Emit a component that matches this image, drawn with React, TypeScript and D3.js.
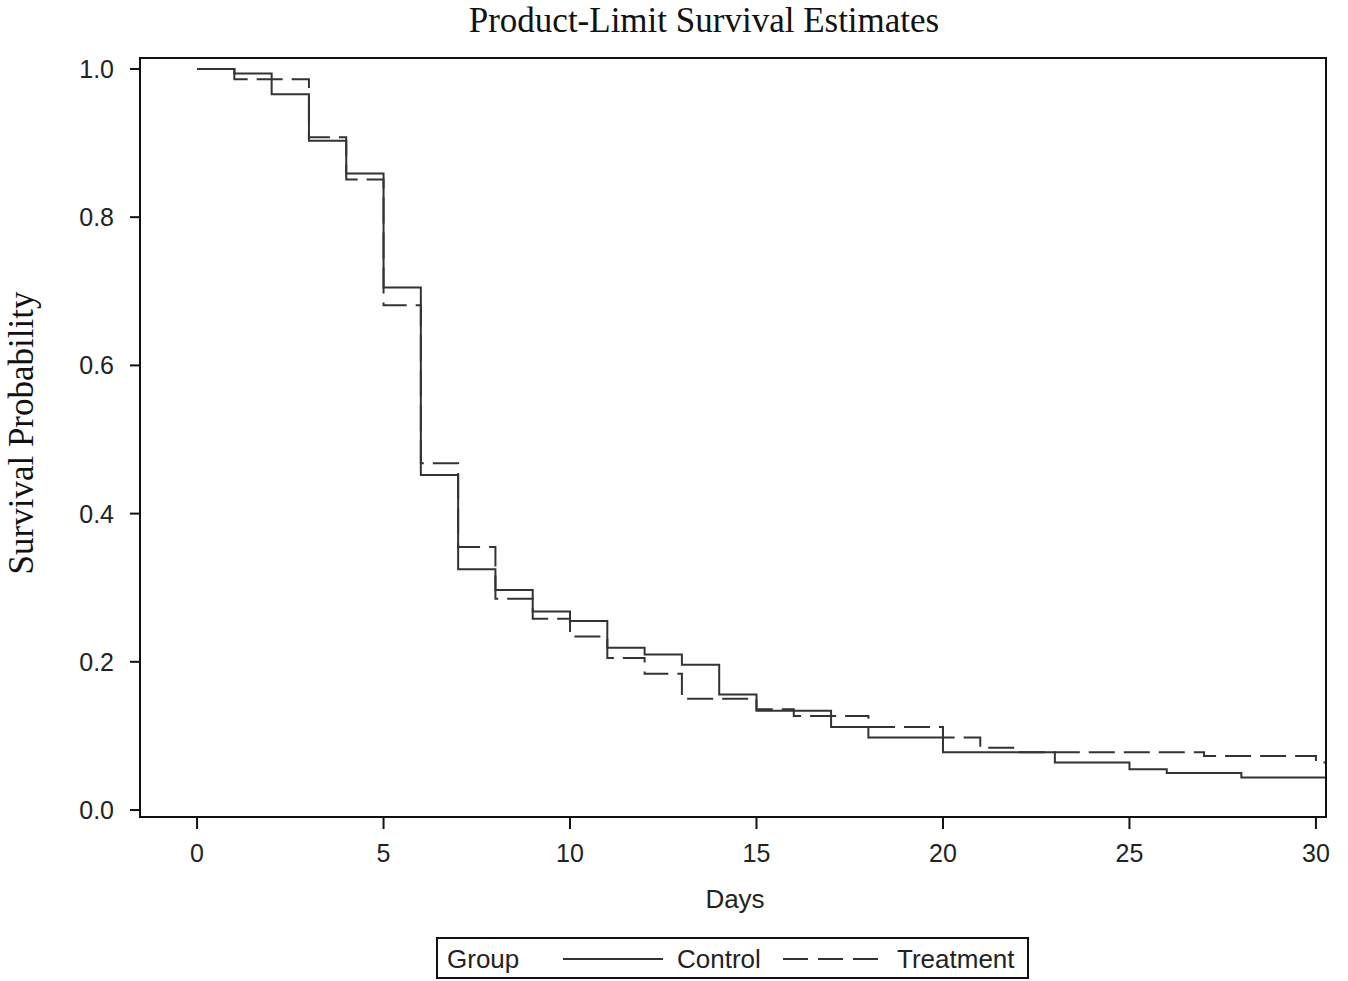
import React from 'react';
import * as d3 from 'd3';

// Kaplan-Meier step estimates
const controlDays = [0, 1, 2, 3, 4, 5, 6, 7, 8, 9, 10, 11, 12, 13, 14, 15, 17, 18, 20, 23, 25, 26, 28];
const controlSurvival = [1.0, 0.994, 0.966, 0.903, 0.859, 0.705, 0.452, 0.325, 0.297, 0.268, 0.255, 0.219, 0.21, 0.196, 0.156, 0.134, 0.112, 0.098, 0.078, 0.064, 0.055, 0.05, 0.044];

const treatmentDays = [0, 1, 3, 4, 5, 6, 7, 8, 9, 10, 11, 12, 13, 15, 16, 18, 20, 21, 22, 27, 30];
const treatmentSurvival = [1.0, 0.986, 0.908, 0.851, 0.681, 0.468, 0.355, 0.285, 0.258, 0.234, 0.205, 0.184, 0.15, 0.136, 0.127, 0.112, 0.098, 0.084, 0.078, 0.073, 0.064];

const xTicks = [0, 5, 10, 15, 20, 25, 30];
const yTicks = [0, 0.2, 0.4, 0.6, 0.8, 1.0];

const groups = [
  { name: 'Control', days: controlDays, surv: controlSurvival, dash: null },
  { name: 'Treatment', days: treatmentDays, surv: treatmentSurvival, dash: '26 9' },
];

const W = 1348;
const H = 981;
const plot = { left: 140, right: 1326, top: 58, bottom: 817 };
const lastDay = 30.27;

const sans = '"Liberation Sans", Arial, sans-serif';
const serif = '"Liberation Serif", "Times New Roman", serif';
const ink = '#333';

export default function App() {
  const x = d3.scaleLinear().domain([-1.53, lastDay]).range([plot.left, plot.right]);
  const y = d3.scaleLinear().domain([-0.0094, 1.0148]).range([plot.bottom, plot.top]);

  const line = d3.line<[number, number]>()
    .x(d => x(d[0]))
    .y(d => y(d[1]))
    .curve(d3.curveStepAfter);

  const paths = groups.map(g => {
    const pts: [number, number][] = g.days.map((d, i) => [d, g.surv[i]]);
    pts.push([lastDay, g.surv[g.surv.length - 1]]);
    return { ...g, d: line(pts) };
  });

  const fmt = d3.format('.1f');

  return (
    <svg width={W} height={H} style={{ position: 'absolute', left: 0, top: 0, background: '#fff' }}>
      <text x={704} y={32} textAnchor="middle" fontFamily={serif} fontSize={35} fill="#111">
        Product-Limit Survival Estimates
      </text>

      <text transform={`translate(33,${433}) rotate(-90)`} textAnchor="middle"
        fontFamily={serif} fontSize={35} fill="#111">
        Survival Probability
      </text>

      {paths.map(p => (
        <path key={p.name} d={p.d || ''} fill="none" stroke={ink} strokeWidth={2}
          strokeDasharray={p.dash || undefined} />
      ))}

      <rect x={plot.left} y={plot.top} width={plot.right - plot.left} height={plot.bottom - plot.top}
        fill="none" stroke="#111" strokeWidth={2} />

      {yTicks.map(t => (
        <g key={'y' + t}>
          <line x1={plot.left - 10} x2={plot.left} y1={y(t)} y2={y(t)} stroke="#111" strokeWidth={2} />
          <text x={plot.left - 26} y={y(t) + 9} textAnchor="end" fontFamily={sans} fontSize={25} fill="#222">
            {fmt(t)}
          </text>
        </g>
      ))}

      {xTicks.map(t => (
        <g key={'x' + t}>
          <line x1={x(t)} x2={x(t)} y1={plot.bottom} y2={plot.bottom + 12} stroke="#111" strokeWidth={2} />
          <text x={x(t)} y={862} textAnchor="middle" fontFamily={sans} fontSize={25} fill="#222">
            {t}
          </text>
        </g>
      ))}

      <text x={735} y={908} textAnchor="middle" fontFamily={sans} fontSize={26} fill="#222">Days</text>

      <g>
        <rect x={437} y={938} width={591} height={40} fill="none" stroke="#111" strokeWidth={2} />
        <text x={447} y={968} fontFamily={sans} fontSize={26} fill="#222">Group</text>
        <line x1={563} x2={663} y1={959} y2={959} stroke={ink} strokeWidth={2} />
        <text x={677} y={968} fontFamily={sans} fontSize={26} fill="#222">Control</text>
        <line x1={783} x2={878} y1={959} y2={959} stroke={ink} strokeWidth={2} strokeDasharray="25 10" />
        <text x={897} y={968} fontFamily={sans} fontSize={26} fill="#222">Treatment</text>
      </g>
    </svg>
  );
}
